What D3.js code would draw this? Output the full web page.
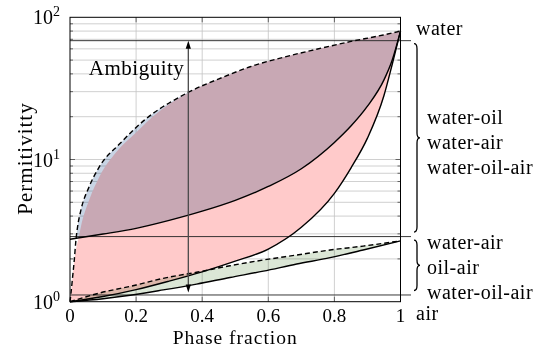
<!DOCTYPE html>
<html>
<head>
<meta charset="utf-8">
<script src="https://cdn.jsdelivr.net/npm/d3@7"></script>
<style>
  html, body { margin: 0; padding: 0; background: #fff; }
  svg { display: block; }
  text { font-family: "Liberation Serif", "Times New Roman", serif; fill: #000; }
</style>
</head>
<body>
<svg id="chart" width="547" height="347"></svg>
<script>
// ---- data: permittivity envelopes vs. phase fraction ----
// upper bound of the water mixtures (dashed)
const upperDashX = [0, 0.003, 0.008, 0.013, 0.018, 0.023, 0.033, 0.058, 0.089, 0.152, 0.2, 0.25, 0.303, 0.357, 0.464, 0.545, 0.645, 0.746, 0.847, 0.948, 1];
const upperDashV = [1.0, 1.15, 1.5, 1.97, 2.72, 3.37, 4.41, 6.44, 8.9, 13.0, 16.8, 21.0, 25.2, 29.6, 38.0, 44.9, 52.3, 59.6, 67.4, 75.1, 80];
// upper edge of the water-air band
const waterAirTopX = [0, 0.003, 0.008, 0.013, 0.019, 0.026, 0.033, 0.058, 0.089, 0.139, 0.2, 0.25, 0.303, 0.357, 0.464, 0.545, 0.645, 0.746, 0.847, 0.948, 1];
const waterAirTopV = [1.0, 1.15, 1.5, 1.95, 2.4, 2.79, 3.37, 5.19, 7.57, 11.2, 15.5, 20.0, 24.8, 29.4, 38.0, 44.9, 52.3, 59.6, 67.4, 75.1, 80];
// lower bound of the water-oil band (solid)
const waterOilLowX = [0, 0.1, 0.2, 0.3, 0.4, 0.5, 0.6, 0.7, 0.8, 0.85, 0.9, 0.95, 0.975, 1];
const waterOilLowV = [2.75, 2.99, 3.28, 3.73, 4.33, 5.16, 6.46, 8.61, 13.18, 17.18, 23.71, 36.31, 50.12, 80];
// lower bound of the water-air band (solid)
const waterAirLowX = [0, 0.1, 0.2, 0.3, 0.4, 0.5, 0.6, 0.7, 0.8, 0.85, 0.9, 0.95, 0.975, 1];
const waterAirLowV = [1.0, 1.087, 1.216, 1.396, 1.622, 1.928, 2.344, 3.334, 5.78, 8.71, 14.13, 28.18, 46.77, 80];
// oil-air band: upper (dashed) and lower (solid) bounds
const oilAirTopX = [0, 0.089, 0.2, 0.282, 0.383, 0.484, 0.585, 0.686, 0.787, 0.887, 1];
const oilAirTopV = [1.0, 1.15, 1.31, 1.46, 1.61, 1.79, 1.965, 2.13, 2.31, 2.46, 2.68];
const oilAirLowX = [0, 0.1, 0.182, 0.282, 0.383, 0.484, 0.585, 0.686, 0.787, 0.887, 1];
const oilAirLowV = [1.0, 1.05, 1.11, 1.21, 1.33, 1.48, 1.64, 1.84, 2.04, 2.31, 2.68];

// reference levels: water, group separator, air
const levelValues = [68.5, 2.87, 1.115];
// ambiguity arrow
const arrowX = 0.358;
const arrowRange = [1.16, 68.5];

// axis ticks
const xTicks = [0, 0.2, 0.4, 0.6, 0.8, 1];
const xTickLabels = ["0", "0.2", "0.4", "0.6", "0.8", "1"];
const yTicks = [1, 10, 100];
const yTickExponents = ["0", "1", "2"];

// side labels
const upperGroup = ["water-oil", "water-air", "water-oil-air"];
const lowerGroup = ["water-air", "oil-air", "water-oil-air"];

// ---- drawing ----
const svg = d3.select("#chart");
const defs = svg.append("defs");
const x = d3.scaleLinear().domain([0, 1]).range([70, 400.5]);
const y = d3.scaleLog().domain([1, 100]).range([301.7, 17.3]);
const [x0, x1] = x.range();
const [yB, yT] = y.range();

const pts = (xs, vs) => xs.map((d, i) => [x(d), y(vs[i])]);
const line = d3.line().curve(d3.curveMonotoneX);
const areaBelow = d3.area().curve(d3.curveMonotoneX).x(d => d[0]).y0(yB + 2).y1(d => d[1]);
const areaAbove = d3.area().curve(d3.curveMonotoneX).x(d => d[0]).y0(0).y1(d => d[1]);

const upperDash = pts(upperDashX, upperDashV);
const waterAirTop = pts(waterAirTopX, waterAirTopV);
const waterOilLow = pts(waterOilLowX, waterOilLowV);
const waterAirLow = pts(waterAirLowX, waterAirLowV);
const oilAirTop = pts(oilAirTopX, oilAirTopV);
const oilAirLow = pts(oilAirLowX, oilAirLowV);

// grid
const grid = svg.append("g").attr("stroke", "#c4c4c4").attr("stroke-width", 0.8);
xTicks.filter(t => t > 0 && t < 1).forEach(t => {
  grid.append("line").attr("x1", x(t)).attr("x2", x(t)).attr("y1", yT).attr("y2", yB);
});
const minorVals = [];
[1, 10].forEach(dec => { for (let k = 2; k <= 9; k++) minorVals.push(dec * k); });
minorVals.concat([10]).forEach(v => {
  grid.append("line").attr("x1", x0).attr("x2", x1).attr("y1", y(v)).attr("y2", y(v));
});

// tick marks (inward)
const ticks = svg.append("g").attr("stroke", "#444").attr("stroke-width", 0.8);
minorVals.forEach(v => {
  ticks.append("line").attr("x1", x0).attr("x2", x0 + 3).attr("y1", y(v)).attr("y2", y(v));
  ticks.append("line").attr("x1", x1).attr("x2", x1 - 3).attr("y1", y(v)).attr("y2", y(v));
});
[10].forEach(v => {
  ticks.append("line").attr("x1", x0).attr("x2", x0 + 5).attr("y1", y(v)).attr("y2", y(v));
  ticks.append("line").attr("x1", x1).attr("x2", x1 - 5).attr("y1", y(v)).attr("y2", y(v));
});
xTicks.filter(t => t > 0 && t < 1).forEach(t => {
  ticks.append("line").attr("x1", x(t)).attr("x2", x(t)).attr("y1", yB).attr("y2", yB - 5);
  ticks.append("line").attr("x1", x(t)).attr("x2", x(t)).attr("y1", yT).attr("y2", yT + 5);
});

// filled bands: region under an upper bound, clipped to the region over a lower bound
function bandFill(id, top, bottom, color, blend) {
  defs.append("clipPath").attr("id", id).append("path").attr("d", areaAbove(bottom));
  const p = svg.append("path").attr("d", areaBelow(top)).attr("fill", color)
    .attr("clip-path", `url(#${id})`);
  if (blend) p.style("mix-blend-mode", "multiply");
}
bandFill("clip-wa", waterAirTop, waterAirLow, "#ffcaca", false);
bandFill("clip-wo", upperDash, waterOilLow, "#c8d4e4", true);
bandFill("clip-oa", oilAirTop, oilAirLow, "#dbe6d6", true);

// reference levels
const levels = svg.append("g").attr("stroke", "#222").attr("stroke-width", 0.9);
levelValues.forEach(v => {
  levels.append("line").attr("x1", x0).attr("x2", 411).attr("y1", y(v)).attr("y2", y(v));
});

// bound curves
const curves = svg.append("g").attr("fill", "none").attr("stroke", "#000").attr("stroke-width", 1.4);
curves.append("path").attr("d", line(upperDash)).attr("stroke-dasharray", "5,3");
curves.append("path").attr("d", line(waterOilLow));
curves.append("path").attr("d", line(waterAirLow));
curves.append("path").attr("d", line(oilAirTop)).attr("stroke-dasharray", "5,3");
curves.append("path").attr("d", line(oilAirLow));

// ambiguity arrow
const ax = x(arrowX), ayLo = y(arrowRange[0]), ayHi = y(arrowRange[1]);
svg.append("line").attr("x1", ax).attr("x2", ax).attr("y1", ayHi + 6).attr("y2", ayLo - 6)
  .attr("stroke", "#4a4a4a").attr("stroke-width", 1.3);
svg.append("path").attr("d", `M${ax},${ayHi}L${ax - 2.6},${ayHi + 8}L${ax + 2.6},${ayHi + 8}Z`).attr("fill", "#000");
svg.append("path").attr("d", `M${ax},${ayLo}L${ax - 2.6},${ayLo - 8}L${ax + 2.6},${ayLo - 8}Z`).attr("fill", "#000");
svg.append("text").attr("x", ax - 4).attr("y", 75).attr("text-anchor", "end")
  .attr("font-size", 21).style("letter-spacing", "0.5px").text("Ambiguity");

// frame
svg.append("rect").attr("x", x0).attr("y", yT).attr("width", x1 - x0).attr("height", yB - yT)
  .attr("fill", "none").attr("stroke", "#000").attr("stroke-width", 1);

// tick labels
xTicks.forEach((t, i) => {
  svg.append("text").attr("x", x(t)).attr("y", 322).attr("text-anchor", "middle")
    .attr("font-size", 19).text(xTickLabels[i]);
});
yTicks.forEach((t, i) => {
  const tx = svg.append("text").attr("x", 60).attr("y", y(t) + 7).attr("text-anchor", "end").attr("font-size", 20);
  tx.append("tspan").text("10");
  tx.append("tspan").attr("dy", -8).attr("font-size", 14).text(yTickExponents[i]);
});

// axis titles
svg.append("text").attr("x", (x0 + x1) / 2).attr("y", 343.5).attr("text-anchor", "middle")
  .attr("font-size", 19.5).style("letter-spacing", "1px").text("Phase fraction");
svg.append("text").attr("transform", `translate(31.5,${(yT + yB) / 2 - 1}) rotate(-90)`)
  .attr("text-anchor", "middle").attr("font-size", 21).style("letter-spacing", "1px").text("Permitivitty");

// braces and group labels
function brace(bx, y0, y1, w) {
  const ym = (y0 + y1) / 2, h = w / 2, q = 5;
  return `M${bx},${y0}Q${bx + h},${y0} ${bx + h},${y0 + q}L${bx + h},${ym - q}` +
    `Q${bx + h},${ym} ${bx + w},${ym}Q${bx + h},${ym} ${bx + h},${ym + q}` +
    `L${bx + h},${y1 - q}Q${bx + h},${y1} ${bx},${y1}`;
}
const bg = svg.append("g").attr("fill", "none").attr("stroke", "#000").attr("stroke-width", 1.3);
const yWater = y(levelValues[0]), ySep = y(levelValues[1]), yAir = y(levelValues[2]);
bg.append("path").attr("d", brace(414, yWater + 3, ySep - 4.5, 6));
bg.append("path").attr("d", brace(414, ySep + 3.5, yAir - 4.5, 6));

const lab = svg.append("g").attr("font-size", 20).style("letter-spacing", "0.5px");
lab.append("text").attr("x", 416).attr("y", yWater - 5.5).text("water");
lab.append("text").attr("x", 416).attr("y", yAir + 25).text("air");
const upMid = (yWater + ySep) / 2 + 10;
upperGroup.forEach((s, i) => lab.append("text").attr("x", 427).attr("y", upMid + (i - 1) * 25).text(s));
const loMid = (ySep + yAir) / 2 + 8;
lowerGroup.forEach((s, i) => lab.append("text").attr("x", 427).attr("y", loMid + (i - 1) * 25).text(s));
</script>
</body>
</html>
